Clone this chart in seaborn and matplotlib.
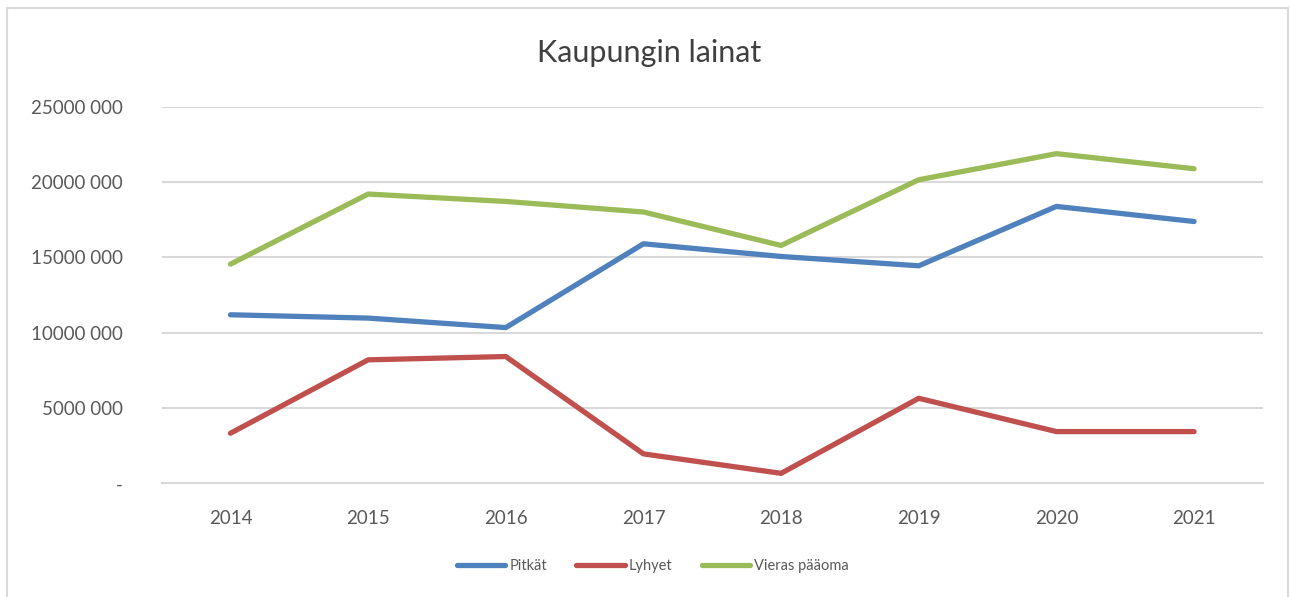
import pandas as pd
import numpy as np
import matplotlib.pyplot as plt
import seaborn as sns
from matplotlib.patches import Rectangle

years = ["2014", "2015", "2016", "2017", "2018", "2019", "2020", "2021"]
pitkat = [11180000, 10960000, 10330000, 15890000, 15050000, 14430000, 18370000, 17370000]
lyhyet = [3320000, 8190000, 8410000, 1950000, 660000, 5640000, 3430000, 3430000]
vieras = [14540000, 19190000, 18700000, 18000000, 15780000, 20140000, 21870000, 20870000]
series_names = ["Pitkät", "Lyhyet", "Vieras pääoma"]
ytick_values = [0, 5000000, 10000000, 15000000, 20000000, 25000000]
ytick_labels = ["-", "5000 000", "10000 000", "15000 000", "20000 000", "25000 000"]

df = pd.DataFrame({
    "Vuosi": years * 3,
    "Sarja": [series_names[0]] * 8 + [series_names[1]] * 8 + [series_names[2]] * 8,
    "Arvo": pitkat + lyhyet + vieras,
})

sns.set_style("white")
plt.rcParams["font.family"] = ["Lato", "DejaVu Sans"]
text_color = "#595959"
grid_color = "#D9D9D9"
palette = {"Pitkät": "#4F81BD", "Lyhyet": "#C0504D", "Vieras pääoma": "#9BBB59"}

fig = plt.figure(figsize=(12.9, 5.97), dpi=100)
ax = fig.add_axes([0.1253, 0.1905, 0.979 - 0.1253, 0.8216 - 0.1905])

sns.lineplot(data=df, x="Vuosi", y="Arvo", hue="Sarja", palette=palette,
             linewidth=3.8, ax=ax, sort=False, legend=True,
             solid_capstyle="round", solid_joinstyle="round")

ax.set_xlim(-0.5, 7.5)
ax.set_ylim(0, 25000000)
ax.set_yticks(ytick_values)
ax.set_yticklabels(ytick_labels)
ax.yaxis.grid(True, color=grid_color, linewidth=1.5)
ax.set_axisbelow(True)
for side in ["top", "right", "left"]:
    ax.spines[side].set_visible(False)
ax.spines["bottom"].set_color(grid_color)
ax.spines["bottom"].set_linewidth(1.5)
ax.tick_params(axis="both", length=0, labelsize=13.5, colors=text_color)
ax.tick_params(axis="y", pad=28)
ax.tick_params(axis="x", pad=19)
ax.set_xlabel("")
ax.set_ylabel("")

handles, labels = ax.get_legend_handles_labels()
ax.get_legend().remove()
leg = fig.legend(handles, labels, loc="center", bbox_to_anchor=(653 / 1290, 0.052),
                 ncol=3, frameon=False, fontsize=10.5, handlelength=3.3,
                 columnspacing=2.0, handletextpad=0.3)
for t in leg.get_texts():
    t.set_color(text_color)
for h in leg.get_lines():
    h.set_linewidth(3.8)

fig.text(649 / 1290, 1 - 53 / 597, "Kaupungin lainat", ha="center", va="center",
         fontsize=22, color="#404040")

fig.patches.append(Rectangle((7 / 1290, -0.05), (1288 - 7) / 1290, 1.05 - 8 / 597,
                             transform=fig.transFigure, fill=False,
                             edgecolor=grid_color, linewidth=1.5))

fig.savefig("out.png", dpi=100, facecolor="white")
